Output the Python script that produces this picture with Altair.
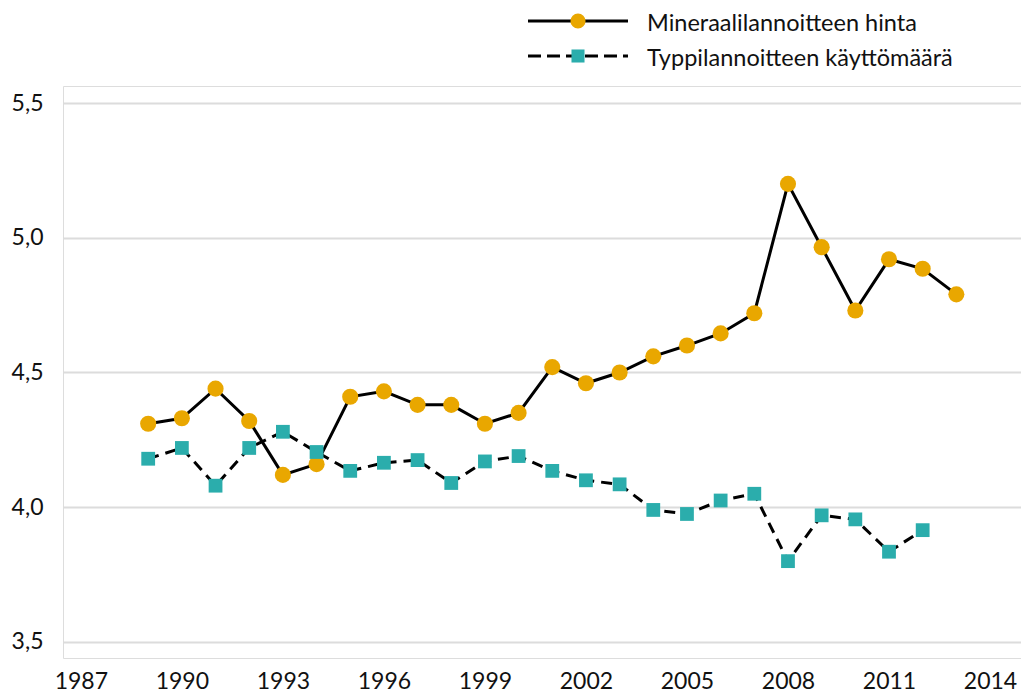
import altair as alt
import pandas as pd

years = list(range(1989, 2014))
price = [4.31, 4.33, 4.44, 4.32, 4.12, 4.16, 4.41, 4.43, 4.38, 4.38, 4.31, 4.35,
         4.52, 4.46, 4.50, 4.56, 4.60, 4.645, 4.72, 5.20, 4.965, 4.73, 4.92, 4.885, 4.79]
use_years = list(range(1989, 2013))
usage = [4.18, 4.22, 4.08, 4.22, 4.28, 4.205, 4.135, 4.165, 4.175, 4.09, 4.17, 4.19,
         4.135, 4.10, 4.085, 3.99, 3.975, 4.025, 4.05, 3.80, 3.97, 3.955, 3.835, 3.915]
series_names = ["Mineraalilannoitteen hinta", "Typpilannoitteen käyttömäärä"]
x_ticks = [1987, 1990, 1993, 1996, 1999, 2002, 2005, 2008, 2011, 2014]
y_ticks = [3.5, 4.0, 4.5, 5.0, 5.5]

ORANGE = "#E9A700"
TEAL = "#2BADAC"
FONT = "Lato"

df_price = pd.DataFrame({"year": years, "value": price, "series": series_names[0]})
df_use = pd.DataFrame({"year": use_years, "value": usage, "series": series_names[1]})

x = alt.X("year:Q", scale=alt.Scale(domain=[1986.47, 2014.92], nice=False, zero=False),
          axis=alt.Axis(values=x_ticks, format="d", title=None, grid=False, ticks=False,
                        domain=False, labelFontSize=23, labelFont=FONT, labelColor="#111",
                        labelPadding=12, labelFlush=False))
y = alt.Y("value:Q", scale=alt.Scale(domain=[3.4406, 5.5631], nice=False, zero=False),
          axis=alt.Axis(values=y_ticks, title=None, ticks=False, domain=False,
                        labelExpr="replace(format(datum.value, '.1f'), '.', ',')",
                        labelFontSize=23, labelFont=FONT, labelColor="#111",
                        labelPadding=20, gridColor="#dcdcdc", gridWidth=2))

price_line = alt.Chart(df_price).mark_line(color="black", strokeWidth=3).encode(x=x, y=y)
use_line = alt.Chart(df_use).mark_line(color="black", strokeWidth=3, strokeDash=[11, 7]).encode(x=x, y=y)
price_pts = alt.Chart(df_price).mark_point(shape="circle", filled=True, color=ORANGE, size=260, opacity=1).encode(x=x, y=y)
use_pts = alt.Chart(df_use).mark_point(shape="square", filled=True, color=TEAL, size=190, opacity=1).encode(x=x, y=y)

leg1 = pd.DataFrame({"label": [series_names[0]]})
leg2 = pd.DataFrame({"label": [series_names[1]]})
r1, r2 = -65, -30
t1, t2 = -62, -27
l_line1 = alt.Chart(leg1).mark_rule(color="black", strokeWidth=3).encode(
    x=alt.value(465), x2=alt.value(565), y=alt.value(r1))
l_pt1 = alt.Chart(leg1).mark_point(shape="circle", filled=True, color=ORANGE, size=230, opacity=1).encode(
    x=alt.value(515), y=alt.value(r1))
l_txt1 = alt.Chart(leg1).mark_text(align="left", baseline="middle", font=FONT, fontSize=23.5, color="#111").encode(
    x=alt.value(584), y=alt.value(t1), text="label:N")
l_line2 = alt.Chart(leg2).mark_rule(color="black", strokeWidth=3, strokeDash=[13, 6]).encode(
    x=alt.value(465), x2=alt.value(565), y=alt.value(r2))
l_pt2 = alt.Chart(leg2).mark_point(shape="square", filled=True, color=TEAL, size=170, opacity=1).encode(
    x=alt.value(515), y=alt.value(r2))
l_txt2 = alt.Chart(leg2).mark_text(align="left", baseline="middle", font=FONT, fontSize=23.5, color="#111").encode(
    x=alt.value(584), y=alt.value(t2), text="label:N")

chart = alt.layer(price_line, use_line, price_pts, use_pts,
                  l_line1, l_pt1, l_txt1, l_line2, l_pt2, l_txt2).properties(
    width=958, height=572,
    autosize=alt.AutoSizeParams(type="none"),
    padding={"left": 55, "top": 78, "right": 0, "bottom": 37},
).configure_view(stroke="#b3b3b3", strokeWidth=2).configure(background="white")

chart.save("out.html", embed_options={"renderer": "svg", "actions": False})
